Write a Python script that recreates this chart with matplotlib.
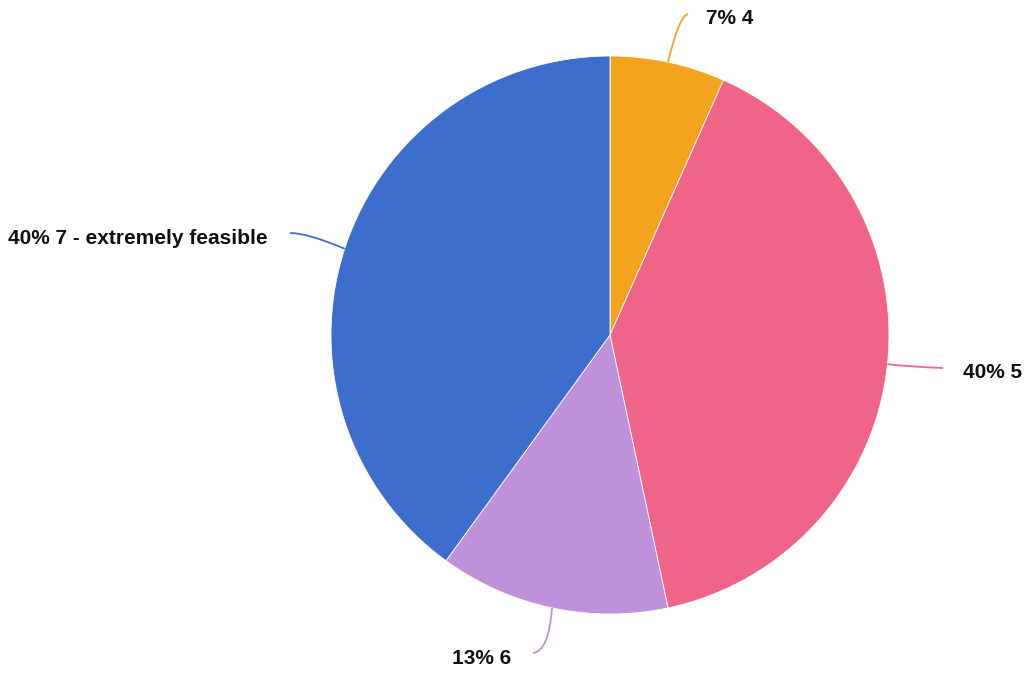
import numpy as np
import matplotlib
matplotlib.use("Agg")
import matplotlib.pyplot as plt
from matplotlib.path import Path
from matplotlib.patches import PathPatch

plt.rcParams['font.family'] = ['Liberation Sans', 'DejaVu Sans']

# %% data
categories = ['4', '5', '6', '7 - extremely feasible']
counts = [1, 6, 2, 6]
colors = ['#F4A41C', '#F06487', '#BF91DB', '#3D6ECE']

# %% layout (pixel coords, y up)
W, H = 1028, 675
cx, cy, R = 610, H - 335, 279
# label anchor, text alignment, leader end, leader control point
label_pos = [(706, H - 18, 'left'), (963, H - 373, 'left'),
             (511, H - 659, 'right'), (268, H - 238, 'right')]
leader_end = [(688, H - 14), (943, H - 368), (533, H - 653), (290, H - 233)]
leader_ctrl = [(679, H - 16), (912, H - 367), (549, H - 651), (308, H - 233)]

fig = plt.figure(figsize=(W / 100, H / 100), dpi=100)
ax = fig.add_axes([0, 0, 1, 1])

wedges, _ = ax.pie(counts, colors=colors, startangle=90, counterclock=False,
                   center=(cx, cy), radius=R, frame=True,
                   wedgeprops=dict(edgecolor='white', linewidth=0.6))
ax.set_xlim(0, W)
ax.set_ylim(0, H)
ax.axis('off')

total = sum(counts)
for i, w in enumerate(wedges):
    mid = np.deg2rad((w.theta1 + w.theta2) / 2)
    p0 = (cx + R * np.cos(mid), cy + R * np.sin(mid))
    path = Path([p0, leader_ctrl[i], leader_end[i]],
                [Path.MOVETO, Path.CURVE3, Path.CURVE3])
    ax.add_patch(PathPatch(path, fc='none', ec=colors[i], lw=1.3))
    pct = round(100 * counts[i] / total)
    x, y, ha = label_pos[i]
    ax.text(x, y, f'{pct}% {categories[i]}', ha=ha, va='center',
            fontsize=15, fontweight='bold', color='#111111')

fig.savefig('out.png', dpi=100)
